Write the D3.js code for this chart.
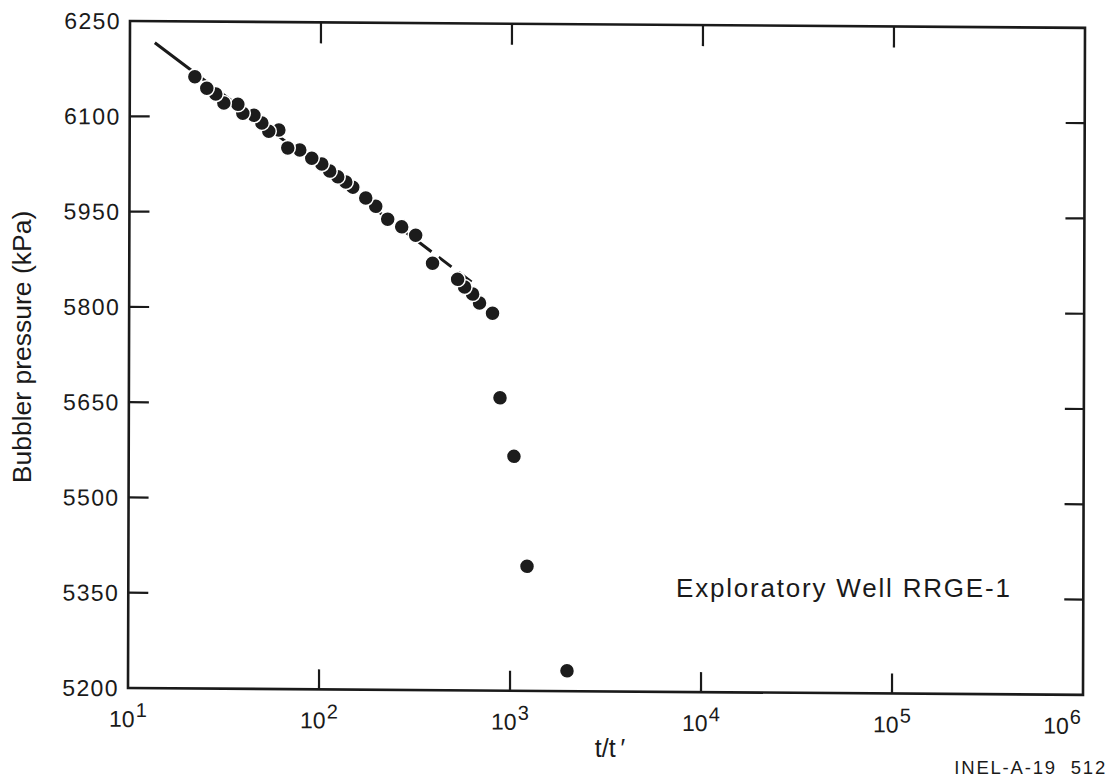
<!DOCTYPE html>
<html><head><meta charset="utf-8">
<script src="https://cdn.jsdelivr.net/npm/d3@7"></script>
<style>
body{margin:0;background:#fff}
svg{display:block}
text{font-family:"Liberation Sans",Arial,Helvetica,sans-serif;fill:#1a1a1a}
</style>
</head><body>
<svg id="c" width="1112" height="779"></svg>
<script>
// ---- data ----
const tValues = [21.9, 25.3, 28.2, 31.1, 36.8, 39.1, 44.7, 49.2, 53.5, 60.4, 67.3, 77.8, 89.9, 101.5, 111.7, 123, 135.6, 147.5, 172.6, 194.7, 225, 266.5, 315.5, 387, 524, 570, 628, 683, 799, 877, 1040, 1222, 1986];
const pValues = [6163, 6145, 6136, 6122, 6120, 6106, 6103, 6091, 6078, 6080, 6052, 6049, 6036, 6027, 6016, 6007, 5999, 5991, 5974, 5961, 5941, 5929, 5916, 5872, 5847, 5835, 5824, 5810, 5794, 5661, 5569, 5396, 5232];
const fitT = [13.5, 620];
const fitP = [6216, 5843];
const xTickExponents = [1, 2, 3, 4, 5, 6];
const yTickValues = [6250, 6100, 5950, 5800, 5650, 5500, 5350, 5200];
const yTitle = "Bubbler pressure (kPa)";
const xTitle = "t/t\u2009\u2032";
const wellLabel = "Exploratory Well RRGE-1";
const figId = "INEL-A-19\u00a0\u00a0512";

// ---- layout ----
const W = 1112, H = 779;
const L = 130, R = 1085, T = 21, B = 688;
const ink = "#1a1a1a";
const svg = d3.select("#c");
svg.append("rect").attr("width", W).attr("height", H).attr("fill", "#fff");

const x = d3.scaleLog().domain([10, 1e6]).range([L, R]);
const y = d3.scaleLinear().domain([5200, 6250]).range([B, T]);

// slight skew of the scanned original
const kx = -0.003, ky = 0.0072;
const g = svg.append("g").attr("transform", `matrix(1,${ky},${kx},1,${-kx * T},${-ky * L})`);

// frame
g.append("rect").attr("x", L).attr("y", T).attr("width", R - L).attr("height", B - T)
  .attr("fill", "none").attr("stroke", ink).attr("stroke-width", 2.6);

// x ticks (inner decades) top & bottom
const xInner = xTickExponents.slice(1, -1).map(e => Math.pow(10, e));
g.selectAll(".xt-top").data(xInner).join("line")
  .attr("x1", d => x(d)).attr("x2", d => x(d)).attr("y1", T).attr("y2", T + 21)
  .attr("stroke", ink).attr("stroke-width", 2.2);
g.selectAll(".xt-bot").data(xInner).join("line")
  .attr("x1", d => x(d)).attr("x2", d => x(d)).attr("y1", B).attr("y2", B - 20)
  .attr("stroke", ink).attr("stroke-width", 2.2);

// y ticks left & right
const yInner = yTickValues.filter(v => v > 5200 && v < 6250);
g.selectAll(".yt-l").data(yInner).join("line")
  .attr("x1", L).attr("x2", L + 20).attr("y1", d => y(d)).attr("y2", d => y(d))
  .attr("stroke", ink).attr("stroke-width", 2.2);
g.selectAll(".yt-r").data(yInner).join("line")
  .attr("x1", R).attr("x2", R - 19).attr("y1", d => y(d)).attr("y2", d => y(d))
  .attr("stroke", ink).attr("stroke-width", 2.2);

// y tick labels
g.selectAll(".yl").data(yTickValues).join("text")
  .attr("x", L - 9).attr("y", d => y(d)).attr("dy", "0.36em")
  .attr("text-anchor", "end").attr("font-size", 23).attr("letter-spacing", "1.4px")
  .text(d => d);

// x tick labels (10^n)
const xl = g.selectAll(".xl").data(xTickExponents).join("text")
  .attr("x", (d, i) => i === xTickExponents.length - 1 ? R - 2 : x(Math.pow(10, d)))
  .attr("y", B + 39)
  .attr("text-anchor", (d, i) => i === xTickExponents.length - 1 ? "end" : "middle")
  .attr("font-size", 23);
xl.append("tspan").text("10");
xl.append("tspan").attr("font-size", 20).attr("dy", -10).attr("dx", 1).text(d => d);

// fitted dashed line
const dash = [46, 9];
let s = 55; while (s < 700) { dash.push(16, 9); s += 25; }
const line = d3.line().x(d => x(d[0])).y(d => y(d[1]));
g.append("path").datum(fitT.map((t, i) => [t, fitP[i]]))
  .attr("d", line).attr("fill", "none").attr("stroke", ink)
  .attr("stroke-width", 3).attr("stroke-dasharray", dash.join(","));

// data points (earlier points drawn on top)
const pts = tValues.map((t, i) => ({ t, p: pValues[i] })).reverse();
g.selectAll(".pt").data(pts).join("circle")
  .attr("cx", d => x(d.t)).attr("cy", d => y(d.p)).attr("r", 7.5)
  .attr("fill", "#1c1c1c").attr("stroke", "#fff").attr("stroke-width", 1.5);

// titles & labels
svg.append("text").attr("transform", "translate(31,347) rotate(-90)")
  .attr("text-anchor", "middle").attr("font-size", 26.5).text(yTitle);
svg.append("text").attr("x", 610).attr("y", 757).attr("text-anchor", "middle")
  .attr("font-size", 25).text(xTitle);
svg.append("text").attr("x", 676).attr("y", 597).attr("font-size", 26)
  .attr("letter-spacing", "1.8px").text(wellLabel);
svg.append("text").attr("x", 1107).attr("y", 774).attr("text-anchor", "end")
  .attr("font-size", 18.5).attr("letter-spacing", "1.8px").text(figId);
</script>
</body></html>
